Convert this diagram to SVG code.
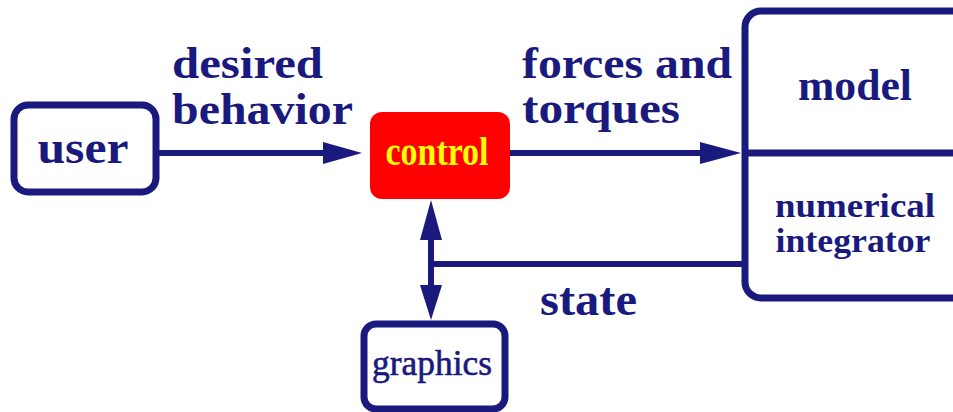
<svg xmlns="http://www.w3.org/2000/svg" width="953" height="412" viewBox="0 0 953 412">
<style>
.box{fill:#fff;stroke:#1a1a7e;stroke-width:7}
.ln{fill:none;stroke:#1a1a7e;stroke-width:6}
.hd{fill:#1a1a7e}
.lbl{font-family:"Liberation Serif",serif;font-weight:bold;fill:#1a1a7e}
</style>
<rect width="953" height="412" fill="#fff"/>
<g id="connectors">
<line class="ln" x1="156" y1="153" x2="330" y2="153"/>
<polygon class="hd" points="323,142 362,153 323,164"/>
<line class="ln" x1="510" y1="153" x2="708" y2="153"/>
<polygon class="hd" points="700,142 741,153 700,164"/>
<line class="ln" x1="431" y1="230" x2="431" y2="290"/>
<polygon class="hd" points="431,200 442,240 420,240"/>
<polygon class="hd" points="431,320 442,285 420,285"/>
<line class="ln" x1="431" y1="264" x2="745" y2="264"/>
</g>
<g id="user">
<rect class="box" x="14" y="105" width="142" height="87" rx="14"/>
<text class="lbl" x="83" y="163" font-size="46" text-anchor="middle" textLength="91" lengthAdjust="spacingAndGlyphs">user</text>
</g>
<g id="control">
<rect x="370" y="112" width="140" height="87" rx="12" fill="#ff0000"/>
<text x="437" y="165" font-family="Liberation Serif, serif" font-weight="bold" font-size="40" fill="#ffff00" text-anchor="middle" textLength="103" lengthAdjust="spacingAndGlyphs">control</text>
</g>
<g id="graphics">
<rect class="box" x="364" y="324" width="141" height="85" rx="12"/>
<text x="432" y="375" font-family="Liberation Serif, serif" font-size="35" fill="#1a1a7e" stroke="#1a1a7e" stroke-width="0.6" text-anchor="middle" textLength="120" lengthAdjust="spacingAndGlyphs">graphics</text>
</g>
<g id="model">
<rect class="box" x="745" y="11" width="240" height="287" rx="16"/>
<line class="ln" x1="745" y1="153" x2="953" y2="153" style="stroke-width:7"/>
<text class="lbl" x="855" y="100" font-size="44" text-anchor="middle" textLength="114" lengthAdjust="spacingAndGlyphs">model</text>
<text class="lbl" x="855" y="217" font-size="34" text-anchor="middle" textLength="160" lengthAdjust="spacingAndGlyphs">numerical</text>
<text class="lbl" x="853" y="252" font-size="34" text-anchor="middle" textLength="155" lengthAdjust="spacingAndGlyphs">integrator</text>
</g>
<g id="labels">
<text class="lbl" x="172" y="78" font-size="44" textLength="151" lengthAdjust="spacingAndGlyphs">desired</text>
<text class="lbl" x="172" y="124" font-size="44" textLength="181" lengthAdjust="spacingAndGlyphs">behavior</text>
<text class="lbl" x="522" y="78" font-size="44" textLength="210" lengthAdjust="spacingAndGlyphs">forces and</text>
<text class="lbl" x="522" y="123" font-size="44" textLength="158" lengthAdjust="spacingAndGlyphs">torques</text>
<text class="lbl" x="540" y="315" font-size="46" textLength="97" lengthAdjust="spacingAndGlyphs">state</text>
</g>
</svg>
